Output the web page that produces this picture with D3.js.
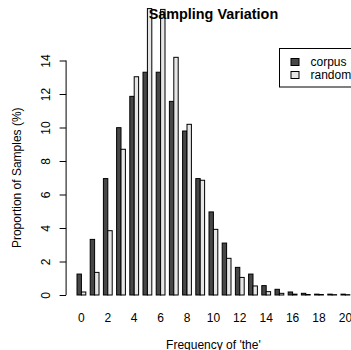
<!DOCTYPE html>
<html>
<head>
<meta charset="utf-8">
<script src="https://cdn.jsdelivr.net/npm/d3@7"></script>
<style>
  html, body { margin: 0; padding: 0; background: #fff; }
  svg { display: block; font-family: "Liberation Sans", Arial, Helvetica, sans-serif; }
</style>
</head>
<body>
<svg id="chart" width="351" height="350"></svg>
<script>
// ---- data ----
const categories = d3.range(0, 21); // frequency of 'the': 0..20
const corpus = [1.25, 3.32, 6.95, 9.99, 11.86, 13.3, 13.3, 11.56, 9.79, 6.95, 4.96, 3.1, 1.65, 1.25, 0.56, 0.34, 0.18, 0.1, 0.05, 0.05, 0.05];
const random = [0.18, 1.35, 3.84, 8.7, 13.03, 17.1, 17.05, 14.19, 10.19, 6.85, 3.92, 2.19, 1.05, 0.54, 0.2, 0.1, 0.05, 0.03, 0.03, 0.02, 0.02];
const seriesNames = ["corpus", "random"];
const seriesColors = ["#474747", "#e6e6e6"];
const yTicks = [0, 2, 4, 6, 8, 10, 12, 14];
const xTickLabels = [0, 2, 4, 6, 8, 10, 12, 14, 16, 18, 20];

const svg = d3.select("#chart");

// scales (barplot units: each group = space 1 + two bars of width 1)
const nGroups = categories.length;
const uMin = 1, uMax = 3 * nGroups;
const ext = 0.04 * (uMax - uMin);
const x = d3.scaleLinear().domain([uMin - ext, uMax + ext]).range([66.1, 360.7]);
const y = d3.scaleLinear().domain([0, 14]).range([295, 60.5]);

const series = [corpus, random];

// bars
series.forEach((vals, s) => {
  svg.append("g").selectAll("rect")
    .data(vals.map((v, i) => ({ v, i })))
    .join("rect")
    .attr("x", d => x(1 + 3 * d.i + s))
    .attr("width", d => x(2 + 3 * d.i + s) - x(1 + 3 * d.i + s))
    .attr("y", d => y(d.v))
    .attr("height", d => y(0) - y(d.v))
    .attr("fill", seriesColors[s])
    .attr("stroke", "#000")
    .attr("stroke-width", 1);
});

// y axis
const yAxis = d3.axisLeft(y).tickValues(yTicks).tickSize(6.5).tickPadding(3);
const gy = svg.append("g").attr("transform", `translate(${x(uMin - ext)},0)`).call(yAxis);
gy.select(".domain").attr("d", `M0,${y(0)}V${y(14)}`).attr("stroke", "#000");
gy.selectAll(".tick line").attr("stroke", "#000");
gy.selectAll(".tick text")
  .attr("font-size", 12)
  .attr("fill", "#000")
  .attr("text-anchor", "middle")
  .attr("x", 0).attr("y", 0).attr("dy", 0)
  .attr("transform", "translate(-16,0) rotate(-90)");

// x tick labels (no axis line / ticks)
svg.append("g").selectAll("text")
  .data(xTickLabels)
  .join("text")
  .attr("x", d => x(2 + 3 * d))
  .attr("y", 321.5)
  .attr("text-anchor", "middle")
  .attr("font-size", 12)
  .text(d => d);

// axis titles
svg.append("text")
  .attr("x", (x(uMin - ext) + x(uMax + ext)) / 2)
  .attr("y", 348.5)
  .attr("text-anchor", "middle")
  .attr("font-size", 12)
  .text("Frequency of 'the'");

svg.append("text")
  .attr("transform", `translate(21,${(y(0) + y(14)) / 2}) rotate(-90)`)
  .attr("text-anchor", "middle")
  .attr("font-size", 12)
  .text("Proportion of Samples (%)");

// title
svg.append("text")
  .attr("x", (x(uMin - ext) + x(uMax + ext)) / 2)
  .attr("y", 19)
  .attr("text-anchor", "middle")
  .attr("font-size", 14.4)
  .attr("font-weight", "bold")
  .text("Sampling Variation");

// legend
const lg = svg.append("g");
lg.append("rect")
  .attr("x", 279.5).attr("y", 48.5)
  .attr("width", 90).attr("height", 38.5)
  .attr("fill", "#fff").attr("stroke", "#000").attr("stroke-width", 1);
seriesNames.forEach((n, k) => {
  const cy = 62 + k * 13;
  lg.append("rect")
    .attr("x", 291).attr("y", cy - 3.5)
    .attr("width", 8).attr("height", 7)
    .attr("fill", seriesColors[k]).attr("stroke", "#000").attr("stroke-width", 1);
  lg.append("text")
    .attr("x", 310.5).attr("y", cy + 4.3)
    .attr("font-size", 12)
    .text(n);
});
</script>
</body>
</html>
